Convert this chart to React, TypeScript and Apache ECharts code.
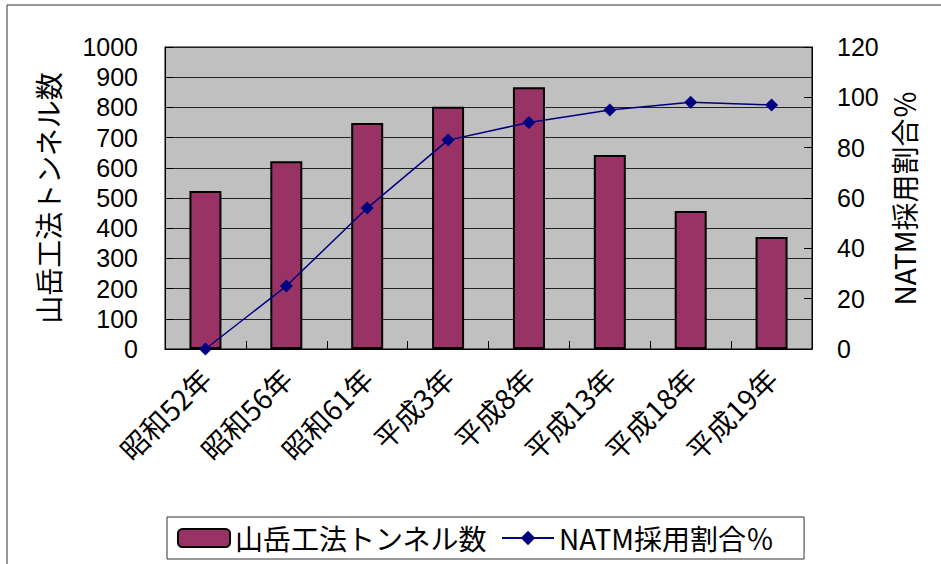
import React, { useEffect, useRef } from "react";
import * as echarts from "echarts";

const categories = ["昭和52年", "昭和56年", "昭和61年", "平成3年", "平成8年", "平成13年", "平成18年", "平成19年"];
const tunnelCounts = [523, 622, 748, 802, 867, 642, 457, 371];
const natmShare = [0, 25, 56, 83, 90, 95, 98, 97];
const barName = "山岳工法トンネル数";
const lineName = "NATM採用割合％";

const FONT = "'Noto Sans CJK JP', sans-serif";
const NUMFONT = "'Liberation Sans', Arial, sans-serif";

export default function App() {
  const ref = useRef<HTMLDivElement>(null);
  useEffect(() => {
    if (!ref.current) return;
    const chart = echarts.init(ref.current, null, { renderer: "svg" });
    chart.setOption({
      animation: false,
      backgroundColor: "#fff",
      textStyle: { fontFamily: FONT, color: "#000" },
      graphic: [
        {
          type: "rect",
          shape: { x: 7, y: 5, width: 1000, height: 700 },
          style: { fill: "none", stroke: "#333", lineWidth: 1 },
          silent: true,
        },
      ],
      grid: {
        left: 165,
        right: 129,
        top: 47,
        bottom: 215,
        show: true,
        backgroundColor: "#c0c0c0",
        borderColor: "#000",
        borderWidth: 1,
      },
      legend: {
        left: 167,
        top: 517,
        borderColor: "#333",
        borderWidth: 1,
        padding: [7, 30, 7, 10],
        itemGap: 14,
        itemWidth: 52,
        itemHeight: 18,
        textStyle: { fontSize: 28, color: "#000", fontFamily: FONT },
        data: [
          { name: barName, itemStyle: { color: "#993366", borderColor: "#000", borderWidth: 2 } },
          { name: lineName },
        ],
      },
      xAxis: {
        type: "category",
        data: categories,
        boundaryGap: true,
        axisLine: { lineStyle: { color: "#000", width: 1 } },
        axisTick: { show: true, inside: true, length: 8, interval: 0, lineStyle: { color: "#000" } },
        axisLabel: { rotate: 45, interval: 0, fontSize: 28, color: "#000", margin: 24, fontFamily: FONT },
      },
      yAxis: [
        {
          type: "value",
          min: 0,
          max: 1000,
          interval: 100,
          name: barName,
          nameLocation: "middle",
          nameRotate: 90,
          nameGap: 103,
          nameTextStyle: { fontSize: 28, color: "#000", fontFamily: FONT },
          axisLine: { show: true, lineStyle: { color: "#000" } },
          axisTick: { show: true, inside: true, length: 8, lineStyle: { color: "#000" } },
          axisLabel: { fontSize: 25, color: "#000", margin: 27, fontFamily: NUMFONT, formatter: (v: number) => String(v) },
          splitLine: { show: true, lineStyle: { color: "#222", width: 1 } },
        },
        {
          type: "value",
          min: 0,
          max: 120,
          interval: 20,
          position: "right",
          name: lineName,
          nameLocation: "middle",
          nameRotate: 90,
          nameGap: 78,
          nameTextStyle: { fontSize: 28, color: "#000", fontFamily: FONT },
          axisLine: { show: true, lineStyle: { color: "#000" } },
          axisTick: { show: true, inside: true, length: 8, lineStyle: { color: "#000" } },
          axisLabel: { fontSize: 25, color: "#000", margin: 25, fontFamily: NUMFONT },
          splitLine: { show: false },
        },
      ],
      series: [
        {
          name: barName,
          type: "bar",
          data: tunnelCounts,
          barWidth: 32,
          itemStyle: { color: "#993366", borderColor: "#000", borderWidth: 2 },
          yAxisIndex: 0,
        },
        {
          name: lineName,
          type: "line",
          data: natmShare,
          yAxisIndex: 1,
          symbol: "diamond",
          symbolSize: 13,
          lineStyle: { color: "#000080", width: 1.5 },
          itemStyle: { color: "#000080" },
        },
      ],
    });
    return () => chart.dispose();
  }, []);
  return (
    <div
      ref={ref}
      style={{ position: "fixed", left: 0, top: 0, width: 941, height: 564 }}
    />
  );
}
